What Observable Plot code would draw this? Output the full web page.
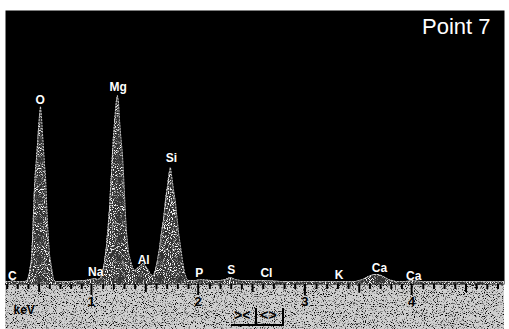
<!DOCTYPE html>
<html><head><meta charset="utf-8">
<script src="https://cdn.jsdelivr.net/npm/d3@7"></script>
<script src="https://cdn.jsdelivr.net/npm/@observablehq/plot@0.6"></script>
<style>
html,body{margin:0;padding:0;background:#fff;}
#wrap{position:relative;width:509px;height:329px;overflow:hidden;}
#btn{position:absolute;left:231px;top:305px;height:19px;display:flex;align-items:flex-end;font:bold 14px "Liberation Sans",Arial,sans-serif;color:#000;border-bottom:2px solid #000;}
#btn span{display:block;padding:0 5px 1px 3px;line-height:15px;}
#btn span.b{border-left:2px solid #000;border-right:2px solid #000;}
</style>
</head><body>
<div id="wrap"></div>
<script>
// Spectrum samples (energy in keV, counts in arbitrary units)
const energy = [0.185,0.232,0.250,0.278,0.325,0.363,0.391,0.410,0.428,0.438,0.447,0.456,0.466,0.475,0.485,0.494,0.503,0.513,0.522,0.531,0.541,0.550,0.560,0.569,0.578,0.588,0.597,0.616,0.634,0.653,0.700,0.794,0.888,0.934,0.981,1.019,1.047,1.075,1.094,1.112,1.131,1.141,1.150,1.159,1.169,1.178,1.187,1.197,1.206,1.216,1.225,1.234,1.244,1.253,1.262,1.272,1.281,1.291,1.300,1.309,1.319,1.328,1.337,1.356,1.375,1.394,1.412,1.431,1.450,1.469,1.487,1.506,1.525,1.544,1.562,1.572,1.590,1.609,1.628,1.637,1.647,1.656,1.665,1.675,1.684,1.694,1.703,1.712,1.722,1.731,1.740,1.750,1.759,1.769,1.778,1.787,1.797,1.806,1.825,1.843,1.862,1.881,1.900,1.965,2.012,2.106,2.200,2.246,2.293,2.340,2.387,2.481,2.621,2.762,2.949,3.137,3.324,3.465,3.530,3.587,3.634,3.680,3.727,3.774,3.840,3.933,3.999,4.074,4.261,4.543,4.861];
const counts = [3,3,4,3,3,3,4,12,25,44,70,95,114,125,140,155,168,178,168,152,136,120,108,84,62,44,30,17,5,3,3,3,4,4,5,6,5,6,12,22,38,51,62,74,95,110,130,148,160,175,184,189,182,165,152,140,130,110,90,70,52,42,32,24,17,14,15,17,19,21,20,17,14,10,9,9,14,24,36,44,52,58,64,74,84,92,98,106,113,117,110,102,95,88,82,72,62,52,38,24,12,6,4,4,5,4,4,5,7,5,4,4,4,3,3,3,3,3,5,8,10,10,8,5,3,3,4,3,3,3,3];

// Element labels
const elements    = ["C","O","Na","Mg","Al","Si","P","S","Cl","K","Ca","Ca"];
const elementKeV  = [0.25,0.51,1.03,1.24,1.48,1.74,2.00,2.30,2.63,3.31,3.69,4.01];
const labelCounts = [8,184,12,197,24,126,11,14,11,9,16,8];

// Axis ticks
const majorTicks = [1,2,3,4];
const halfTicks = [0.5,1.5,2.5,3.5,4.5];
const minorTicks = [0.2,0.3,0.4,0.6,0.7,0.8,0.9,1.1,1.2,1.3,1.4,1.6,1.7,1.8,1.9,2.1,2.2,2.3,2.4,2.6,2.7,2.8,2.9,3.1,3.2,3.3,3.4,3.6,3.7,3.8,3.9,4.1,4.2,4.3,4.4,4.6,4.7,4.8];

const title = "Point 7";
const unit = "keV";

const spectrum = energy.map((e, i) => ({e, c: counts[i]}));
const labels = elements.map((el, i) => ({el, e: elementKeV[i], c: labelCounts[i]}));

const font = "'Liberation Sans', Arial, sans-serif";

const chart = Plot.plot({
  width: 509, height: 329,
  marginLeft: 5, marginRight: 5, marginTop: 10, marginBottom: 45,
  style: {background: "transparent", fontFamily: font, overflow: "visible"},
  x: {domain: [0.185, 4.861], label: null},
  y: {domain: [0, 274], axis: null},
  marks: [
    Plot.frame({fill: "#000", stroke: null}),
    Plot.areaY(spectrum, {x: "e", y: "c", fill: "#333"}),
    Plot.areaY(spectrum, {x: "e", y: "c", fill: "#fff", className: "grain"}),
    Plot.lineY(spectrum, {x: "e", y: "c", stroke: "#c8c8c8", strokeWidth: 1, strokeDasharray: "1.5,1.5"}),
    Plot.text(labels, {x: "e", y: "c", text: "el", fill: "#fff", fontWeight: "bold", fontSize: 12}),
    Plot.text([title], {frameAnchor: "top-right", dx: -14, dy: 8, lineAnchor: "top", fill: "#fff", fontSize: 22, fontFamily: font}),
    Plot.axisX(minorTicks, {tickSize: 5, tickFormat: () => "", strokeWidth: 2, stroke: "#000"}),
    Plot.axisX(halfTicks, {tickSize: 8, tickFormat: () => "", strokeWidth: 2, stroke: "#000"}),
    Plot.axisX(majorTicks, {tickSize: 11, tickPadding: 1, strokeWidth: 2, stroke: "#000", fill: "#000", fontSize: 13, fontWeight: "bold", dx: -1, tickFormat: d => String(d)}),
    Plot.text([unit], {frameAnchor: "bottom-left", dx: 8, dy: 29, textAnchor: "start", fill: "#000", fontWeight: "bold", fontSize: 12})
  ]
});

const svg = d3.select(chart);
const defs = svg.insert("defs", ":first-child");
// grain for the peaks
const g = defs.append("filter").attr("id", "grain").attr("x", 0).attr("y", 0).attr("width", 1).attr("height", 1);
g.append("feTurbulence").attr("type", "fractalNoise").attr("baseFrequency", 0.95).attr("numOctaves", 1).attr("seed", 4).attr("result", "n");
g.append("feColorMatrix").attr("in", "n").attr("type", "matrix")
  .attr("values", "0 0 0 0 1  0 0 0 0 1  0 0 0 0 1  7 0 0 0 -3.6").attr("result", "w");
g.append("feComposite").attr("in", "w").attr("in2", "SourceAlpha").attr("operator", "in");
// grain for the gray band
const b = defs.append("filter").attr("id", "band").attr("x", 0).attr("y", 0).attr("width", 1).attr("height", 1);
b.append("feTurbulence").attr("type", "fractalNoise").attr("baseFrequency", 0.9).attr("numOctaves", 2).attr("seed", 7).attr("result", "n");
b.append("feColorMatrix").attr("in", "n").attr("type", "matrix")
  .attr("values", "0 0 0 0 0  0 0 0 0 0  0 0 0 0 0  -5 0 0 0 2.3").attr("result", "d");
b.append("feComposite").attr("in", "d").attr("in2", "SourceAlpha").attr("operator", "in");
svg.selectAll(".grain path").attr("filter", "url(#grain)");
// gray strip under the plot frame
const bandY = 329 - 45;
svg.insert("rect", "defs + *").attr("x", 5).attr("y", bandY).attr("width", 499).attr("height", 45).attr("fill", "#cfcfcf");
svg.insert("rect", "defs + * + *").attr("x", 5).attr("y", bandY).attr("width", 499).attr("height", 45).attr("fill", "#000").attr("filter", "url(#band)");

const wrap = document.getElementById("wrap");
wrap.appendChild(chart);
const btn = document.createElement("div");
btn.id = "btn";
btn.innerHTML = '<span>&gt;&lt;</span><span class="b">&lt;&gt;</span>';
wrap.appendChild(btn);
</script>
</body></html>
